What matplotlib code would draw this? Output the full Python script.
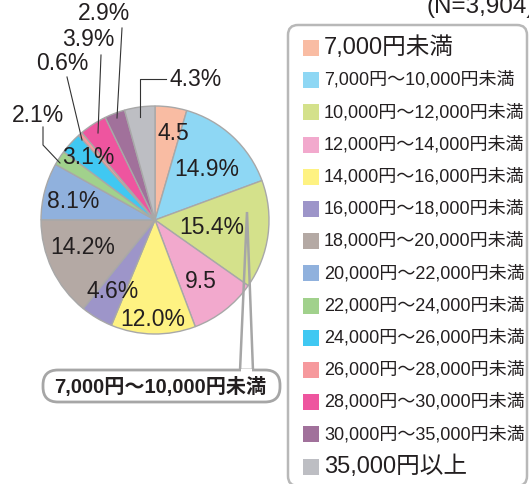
import matplotlib
matplotlib.use("Agg")
import matplotlib.pyplot as plt
from matplotlib.patches import FancyBboxPatch, Rectangle, Polygon

# data (clockwise from 12 o'clock)
categories = [
    "7,000円未満",
    "7,000円～10,000円未満",
    "10,000円～12,000円未満",
    "12,000円～14,000円未満",
    "14,000円～16,000円未満",
    "16,000円～18,000円未満",
    "18,000円～20,000円未満",
    "20,000円～22,000円未満",
    "22,000円～24,000円未満",
    "24,000円～26,000円未満",
    "26,000円～28,000円未満",
    "28,000円～30,000円未満",
    "30,000円～35,000円未満",
    "35,000円以上",
]
values = [4.5, 14.9, 15.4, 9.5, 12.0, 4.6, 14.2, 8.1, 2.1, 3.1, 0.6, 3.9, 2.9, 4.3]
value_labels = ["4.5", "14.9%", "15.4%", "9.5", "12.0%", "4.6%", "14.2%", "8.1%",
                "2.1%", "3.1%", "0.6%", "3.9%", "2.9%", "4.3%"]
colors = ["#F9BCA3", "#8ED7F4", "#D4E18B", "#F2A9CD", "#FEF282", "#9D95C9",
          "#B4A9A4", "#90B1DD", "#A1D18C", "#40C8F2", "#F6999D", "#EE559F",
          "#A1719B", "#BDBEC3"]
n_label = "(N=3,904)"
callout_text = "7,000円～10,000円未満"

W, H = 529, 484
NUM_FONT = ["Liberation Sans", "Noto Sans CJK JP", "DejaVu Sans"]
TXT = "#231f20"
GREY = "#a6a6a6"


def Y(y):
    # pixel row (from top) -> data y
    return H - y


fig = plt.figure(figsize=(W / 100, H / 100), dpi=100)
ax = fig.add_axes([0, 0, 1, 1])

ax.pie(values, colors=colors, startangle=90, counterclock=False,
       center=(155, Y(220)), radius=114,
       wedgeprops=dict(edgecolor="#a8a8a8", linewidth=1.0))
ax.set_xlim(0, W)
ax.set_ylim(0, H)
ax.set_aspect("equal")
ax.axis("off")

# labels inside the pie
inside_pos = {0: (173, 133), 1: (207, 170), 2: (212, 228), 3: (201, 282),
              4: (153, 320), 5: (113, 292), 6: (83, 248), 7: (73, 201),
              9: (88, 158)}
for i, (x, y) in inside_pos.items():
    ax.text(x, Y(y), value_labels[i], ha="center", va="center",
            fontsize=16.5, family=NUM_FONT, color=TXT)

# labels outside with leader lines
lc = dict(color="#333333", lw=0.8)
ax.plot([60, 43, 43], [Y(163), Y(145), Y(127)], **lc)
ax.text(38, Y(115), value_labels[8], ha="center", va="center",
        fontsize=16.5, family=NUM_FONT, color=TXT)
ax.plot([82, 67], [Y(140), Y(77)], **lc)
ax.text(62, Y(63), value_labels[10], ha="center", va="center",
        fontsize=16.5, family=NUM_FONT, color=TXT)
ax.plot([98, 101], [Y(133), Y(55)], **lc)
ax.text(88, Y(40), value_labels[11], ha="center", va="center",
        fontsize=16.5, family=NUM_FONT, color=TXT)
ax.plot([117, 122], [Y(118), Y(28)], **lc)
ax.text(104, Y(14), value_labels[12], ha="center", va="center",
        fontsize=16.5, family=NUM_FONT, color=TXT)
ax.plot([140, 140, 166], [Y(117), Y(79), Y(79)], **lc)
ax.text(170, Y(79), value_labels[13], ha="left", va="center",
        fontsize=16.5, family=NUM_FONT, color=TXT)

# callout box
box = FancyBboxPatch((43, Y(402)), 237, 32,
                     boxstyle="round,pad=0,rounding_size=15",
                     facecolor="white", edgecolor=GREY, lw=2)
ax.add_patch(box)
ax.add_patch(Polygon([(240, Y(371)), (247, Y(212)), (253, Y(371))],
                     closed=False, facecolor="none", edgecolor=GREY, lw=1.8))
ax.add_patch(Rectangle((241, Y(373)), 11, 4, facecolor="white",
                       edgecolor="none"))
ax.text(160, Y(387), callout_text, ha="center", va="center",
        fontsize=14.5, family=NUM_FONT, color=TXT, fontweight="bold")

# N (cut off at the top right, as in the source)
ax.text(426, Y(13), n_label, ha="left", va="baseline",
        fontsize=17.5, family=NUM_FONT, color=TXT)

# legend
leg = FancyBboxPatch((288, Y(486)), 239, 461,
                     boxstyle="round,pad=0,rounding_size=10",
                     facecolor="white", edgecolor="#b8b8b8", lw=1.8)
ax.add_patch(leg)
for i, (lab, c) in enumerate(zip(categories, colors)):
    yc = 48 + i * 32.2
    ax.add_patch(Rectangle((303, Y(yc + 8)), 16, 16, facecolor=c,
                           edgecolor="none"))
    big = i == 0 or i == len(categories) - 1
    ax.text(324, Y(yc), lab, ha="left", va="center",
            fontsize=17 if big else 13, family=NUM_FONT, color=TXT)

fig.savefig("out.png", dpi=100)
